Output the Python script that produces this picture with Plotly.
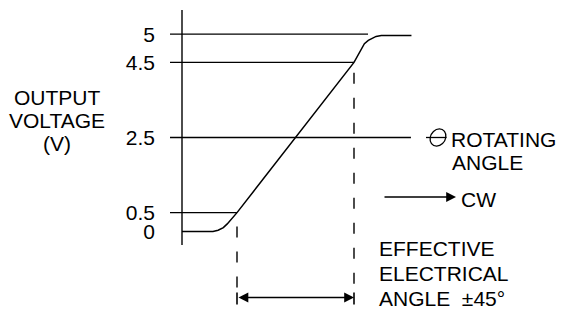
import plotly.graph_objects as go

W, H = 561, 309
FONT = "Arial, 'Liberation Sans', Helvetica, sans-serif"
FS = 21

# ---- data (rotation angle in degrees, output in volts) ----
CURVE_ANGLE = [-87.3, -63.5, -59.5, -55.5, -52.5, -50.0, -47.5, -45.0,
               45.0, 47.5, 50.0, 53.0, 56.0, 59.0, 62.0, 66.0, 89.2]
CURVE_VOLT = [0.0, 0.0, 0.03, 0.10, 0.20, 0.30, 0.40, 0.50,
              4.50, 4.61, 4.72, 4.83, 4.89, 4.93, 4.96, 4.975, 4.975]

LEVELS = [0.5, 2.5, 4.5, 5.0]              # reference voltage lines
LEVEL_END_ANGLE = [-45.0, 88.8, 45.0, 55.8]  # where each reference line stops

TICK_VALUES = [0, 0.5, 2.5, 4.5, 5]
TICK_LABELS = ["0", "0.5", "2.5", "4.5", "5"]

EFFECTIVE_ANGLE = [-45.0, 45.0]            # effective electrical angle +-45 deg


# the original drawing is not to scale above 4.5 V (gap to 5 V is stretched)
def draw_v(v):
    return v if v <= 4.5 else 4.5 + (v - 4.5) * 1.5


# pixel -> axis helpers for decorations (axis 0 at px 182, linear range centre at px 295.5)
X0, KX = 295.5, 1.3
Y0, KY = 231.4, 37.57


def ax(xp):
    return (xp - X0) / KX


def ay(yp):
    return (Y0 - yp) / KY


fig = go.Figure()
BLACK = "#000000"

# response curve
fig.add_trace(go.Scatter(x=CURVE_ANGLE, y=[draw_v(v) for v in CURVE_VOLT],
                         mode="lines", line=dict(color=BLACK, width=1.5),
                         hoverinfo="skip", showlegend=False))

# horizontal reference lines starting just left of the voltage axis
for lv, end in zip(LEVELS, LEVEL_END_ANGLE):
    fig.add_trace(go.Scatter(x=[ax(170), end], y=[draw_v(lv), draw_v(lv)],
                             mode="lines", line=dict(color=BLACK, width=1.4),
                             hoverinfo="skip", showlegend=False))

shapes = []
# voltage axis line
shapes.append(dict(type="line", xref="x", yref="y", x0=ax(182), x1=ax(182),
                   y0=ay(245), y1=ay(10), line=dict(color=BLACK, width=1.4)))
# dashed verticals at the ends of the effective angle
shapes.append(dict(type="line", xref="x", yref="y", x0=EFFECTIVE_ANGLE[0], x1=EFFECTIVE_ANGLE[0],
                   y0=ay(226.5), y1=ay(292), line=dict(color=BLACK, width=1.4, dash="11px,14px")))
shapes.append(dict(type="line", xref="x", yref="y", x0=EFFECTIVE_ANGLE[1], x1=EFFECTIVE_ANGLE[1],
                   y0=ay(72.7), y1=ay(292), line=dict(color=BLACK, width=1.4, dash="11px,14px")))
# end bars of the dimension arrow
for a in EFFECTIVE_ANGLE:
    shapes.append(dict(type="line", xref="x", yref="y", x0=a, x1=a,
                       y0=ay(292.5), y1=ay(304.5), line=dict(color=BLACK, width=1.6)))

# theta glyph (slanted ellipse with a bar)
cx, cy = 438.0, 137.5
rx, ry, k, sh = 7.8, 8.6, 0.5523, 0.16
pts = [
    ("M", [(rx, 0)]),
    ("C", [(rx, ry * k), (rx * k, ry), (0, ry)]),
    ("C", [(-rx * k, ry), (-rx, ry * k), (-rx, 0)]),
    ("C", [(-rx, -ry * k), (-rx * k, -ry), (0, -ry)]),
    ("C", [(rx * k, -ry), (rx, -ry * k), (rx, 0)]),
]
path = ""
for cmd, plist in pts:
    coords = []
    for (u, v) in plist:
        xp = cx + u + sh * v
        yp = cy - v
        coords.append(f"{ax(xp):.4f},{ay(yp):.4f}")
    path += cmd + " " + " ".join(coords) + " "
path += "Z"
shapes.append(dict(type="path", xref="x", yref="y", path=path,
                   line=dict(color=BLACK, width=1.3)))
shapes.append(dict(type="line", xref="x", yref="y", x0=ax(426.0), x1=ax(446.5),
                   y0=ay(cy), y1=ay(cy), line=dict(color=BLACK, width=1.3)))

annotations = []
tf = dict(family=FONT, size=FS, color=BLACK)


def label(text, xp, yp, xanchor="left"):
    annotations.append(dict(text=text, x=ax(xp), y=ay(yp), xref="x", yref="y",
                            xanchor=xanchor, yanchor="middle",
                            showarrow=False, font=tf))


label("OUTPUT", 57, 97, xanchor="center")
label("VOLTAGE", 57, 120, xanchor="center")
label("(V)", 57, 143, xanchor="center")
label("ROTATING", 449, 139)
label("ANGLE", 450, 162)
label("CW", 459, 199)
label("EFFECTIVE", 377, 248)
label("ELECTRICAL", 377, 273)
label("ANGLE  ±45°", 377, 298)

# CW arrow
annotations.append(dict(x=ax(456), y=ay(197), ax=ax(383), ay=ay(197),
                        xref="x", yref="y", axref="x", ayref="y", text="",
                        showarrow=True, arrowhead=2, arrowsize=1.4, arrowwidth=1.4,
                        arrowcolor=BLACK))
# dimension arrow (both ends)
annotations.append(dict(x=EFFECTIVE_ANGLE[1], y=ay(297.5), ax=EFFECTIVE_ANGLE[0], ay=ay(297.5),
                        xref="x", yref="y", axref="x", ayref="y", text="",
                        showarrow=True, arrowhead=2, startarrowhead=2, arrowside="end+start",
                        arrowsize=1.4, startarrowsize=1.4, arrowwidth=1.4,
                        arrowcolor=BLACK))

fig.update_layout(
    width=W, height=H,
    margin=dict(l=0, r=0, t=0, b=0),
    paper_bgcolor="white", plot_bgcolor="white",
    showlegend=False,
    shapes=shapes, annotations=annotations,
    xaxis=dict(range=[ax(0), ax(W)], visible=False, fixedrange=True),
    yaxis=dict(range=[ay(H), ay(0)], anchor="free", position=182 / W, side="left",
               tickvals=[draw_v(v) for v in TICK_VALUES], ticktext=TICK_LABELS,
               ticks="", showgrid=False, zeroline=False, showline=False,
               ticklabelstandoff=27, tickfont=tf, fixedrange=True),
)

fig.write_html("out.html", config={"displayModeBar": False},
               post_script="document.body.style.margin='0px';document.body.style.overflow='hidden';")
